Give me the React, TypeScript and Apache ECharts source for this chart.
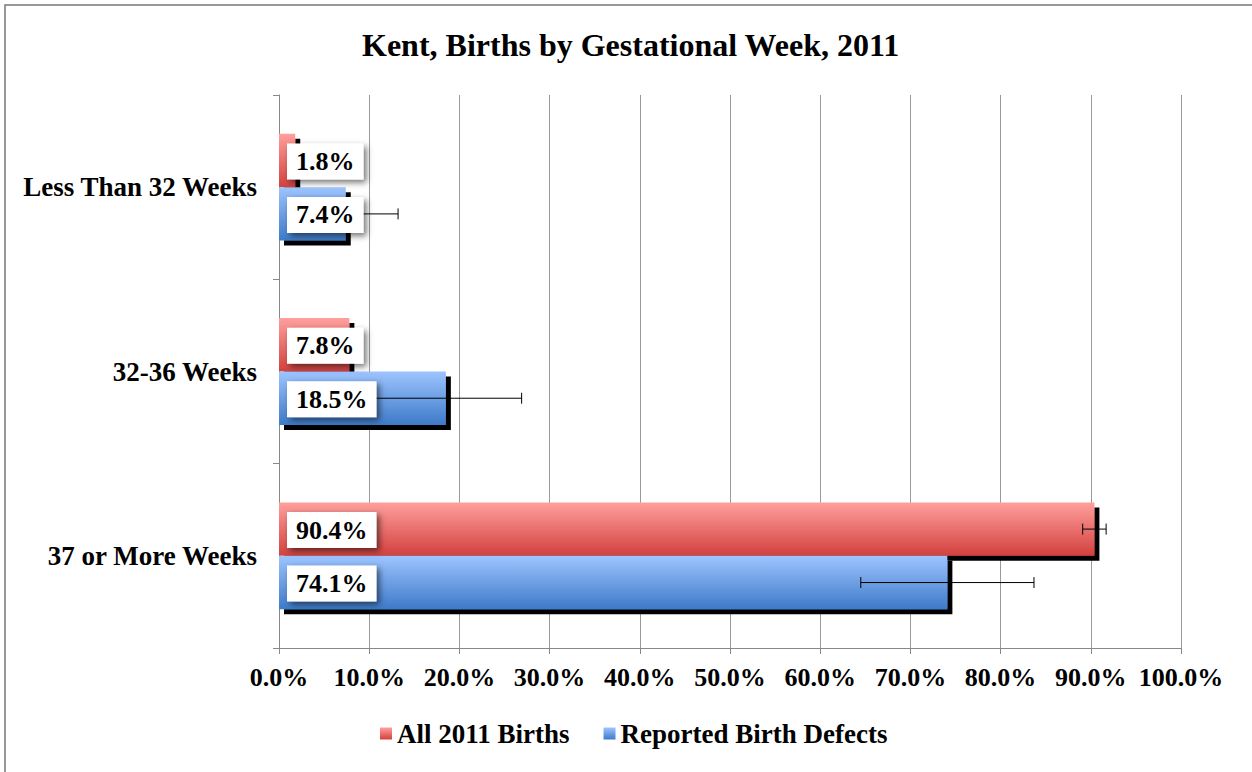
import React, { useEffect, useRef } from 'react';
import * as echarts from 'echarts';

const title = 'Kent, Births by Gestational Week, 2011';
const categories = ['Less Than 32 Weeks', '32-36 Weeks', '37 or More Weeks'];
const seriesNames = ['All 2011 Births', 'Reported Birth Defects'];
const allBirths = [1.8, 7.8, 90.4];
const allBirthsErr = [0.2, 0.3, 1.3];
const defects = [7.4, 18.5, 74.1];
const defectsErr = [5.8, 8.4, 9.6];

const FONT = '"Liberation Serif", "Times New Roman", serif';

const redGrad = () =>
  new echarts.graphic.LinearGradient(0, 0, 0, 1, [
    { offset: 0, color: '#FFA09D' },
    { offset: 1, color: '#D2403E' },
  ]);
const blueGrad = () =>
  new echarts.graphic.LinearGradient(0, 0, 0, 1, [
    { offset: 0, color: '#9EC4FF' },
    { offset: 1, color: '#3D7AC8' },
  ]);

// error bars + value labels (labels drawn above error bars, error bars above bars)
function errSeries(name: string, vals: number[], errs: number[], off: number) {
  return {
    type: 'custom',
    name,
    z: 3,
    silent: true,
    encode: { x: 1, y: 0 },
    data: vals.map((v, i) => [i, v, errs[i]]),
    renderItem: (params: any, api: any) => {
      const cat = api.value(0);
      const v = api.value(1);
      const e = api.value(2);
      const band = api.size([0, 1])[1];
      const c = api.coord([v, cat]);
      const y = c[1] + off * band;
      const x0 = api.coord([0, cat])[0];
      const x1 = api.coord([v - e, cat])[0];
      const x2 = api.coord([v + e, cat])[0];
      const st = { stroke: '#000', lineWidth: 1 };
      return {
        type: 'group',
        children: [
          { type: 'line', shape: { x1, y1: y, x2, y2: y }, style: st },
          { type: 'line', shape: { x1, y1: y - 5.5, x2: x1, y2: y + 5.5 }, style: st },
          { type: 'line', shape: { x1: x2, y1: y - 5.5, x2, y2: y + 5.5 }, style: st },
          {
            type: 'text',
            x: x0 + 8,
            y: y + 1,
            style: {
              text: v.toFixed(1) + '%',
              fontFamily: FONT,
              fontWeight: 'bold',
              fontSize: 26,
              fill: '#000',
              align: 'left',
              verticalAlign: 'middle',
              backgroundColor: '#fff',
              padding: [6, 9, 4, 9],
              shadowBlur: 6,
              shadowColor: 'rgba(0,0,0,0.55)',
              shadowOffsetX: 3,
              shadowOffsetY: 3,
            },
          },
        ],
      };
    },
  };
}

export default function App() {
  const ref = useRef<HTMLDivElement>(null);
  useEffect(() => {
    document.body.style.margin = '0';
    const chart = echarts.init(ref.current!, null, { renderer: 'svg' });
    const barShadow = { shadowColor: '#000', shadowBlur: 0, shadowOffsetX: 5, shadowOffsetY: 5 };
    chart.setOption({
      animation: false,
      backgroundColor: '#fff',
      graphic: [
        {
          type: 'rect',
          shape: { x: 5, y: 5, width: 1300, height: 800 },
          style: { fill: 'none', stroke: '#777', lineWidth: 1.5 },
          z: 0,
        },
      ],
      title: {
        text: title,
        left: 357,
        top: 24,
        textStyle: { fontFamily: FONT, fontWeight: 'bold', fontSize: 32, color: '#000' },
      },
      legend: {
        data: seriesNames,
        bottom: 20,
        left: 375,
        icon: 'rect',
        itemWidth: 12,
        itemHeight: 12,
        itemGap: 34,
        itemStyle: { shadowColor: 'transparent', shadowOffsetX: 0, shadowOffsetY: 0 },
        textStyle: { fontFamily: FONT, fontWeight: 'bold', fontSize: 27, color: '#000' },
      },
      grid: { left: 279, right: 71, top: 95, bottom: 124 },
      xAxis: {
        type: 'value',
        min: 0,
        max: 100,
        interval: 10,
        axisLine: { show: true, lineStyle: { color: '#888', width: 1 } },
        axisTick: { show: true, length: 6, lineStyle: { color: '#888' } },
        splitLine: { show: true, lineStyle: { color: '#999', width: 1 } },
        axisLabel: {
          margin: 16,
          formatter: (v: number) => v.toFixed(1) + '%',
          fontFamily: FONT,
          fontWeight: 'bold',
          fontSize: 26,
          color: '#000',
        },
      },
      yAxis: {
        type: 'category',
        inverse: true,
        data: categories,
        axisLine: { show: true, lineStyle: { color: '#888', width: 1 } },
        axisTick: { show: true, length: 6, lineStyle: { color: '#888' } },
        axisLabel: {
          margin: 22,
          fontFamily: FONT,
          fontWeight: 'bold',
          fontSize: 27,
          color: '#000',
        },
      },
      series: [
        {
          type: 'bar',
          name: seriesNames[0],
          data: allBirths,
          z: 2,
          barGap: '0%',
          barCategoryGap: '42%',
          itemStyle: { color: redGrad(), ...barShadow },
        },
        {
          type: 'bar',
          name: seriesNames[1],
          data: defects,
          z: 2,
          barGap: '0%',
          barCategoryGap: '42%',
          itemStyle: { color: blueGrad(), ...barShadow },
        },
        errSeries('err0', allBirths, allBirthsErr, -0.145),
        errSeries('err1', defects, defectsErr, 0.145),
      ],
    });
    return () => chart.dispose();
  }, []);
  return <div ref={ref} style={{ position: 'fixed', left: 0, top: 0, width: 1252, height: 772 }} />;
}
